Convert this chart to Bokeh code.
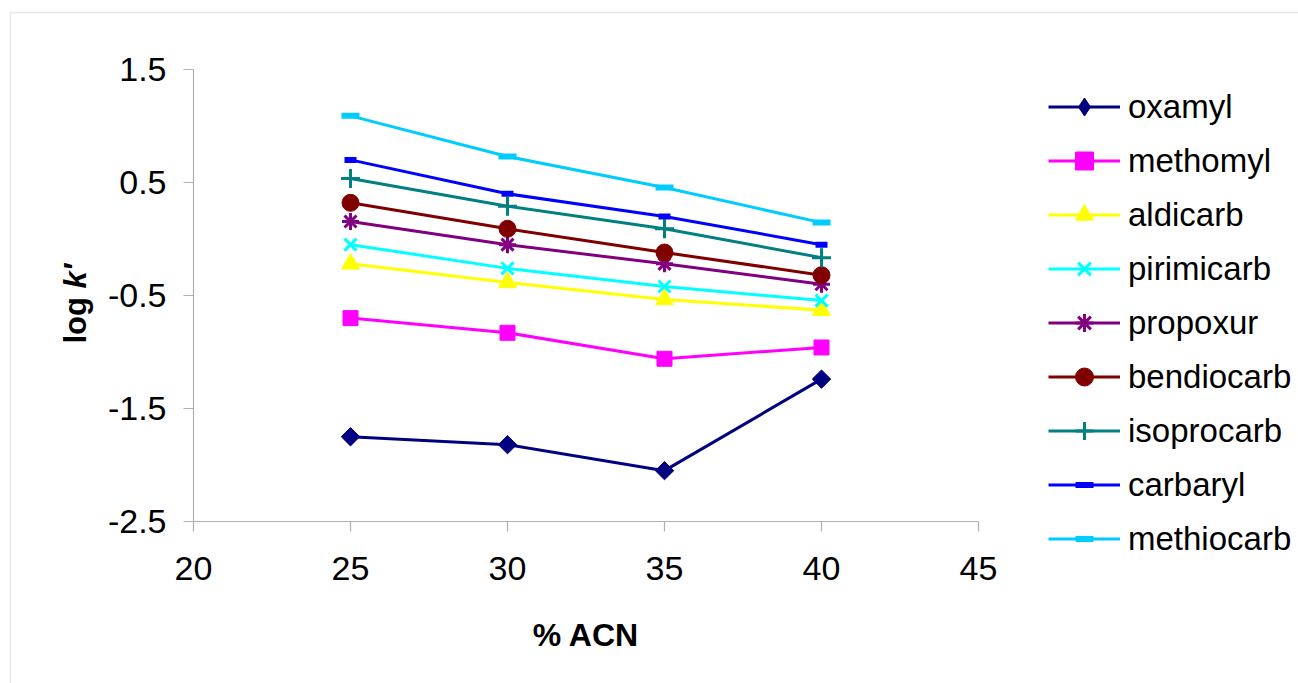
import math
from bokeh.plotting import figure
from bokeh.models import (Legend, LegendItem, Label, BoxAnnotation, FixedTicker, Range1d)
from bokeh.embed import file_html
from bokeh.resources import INLINE

# ---- data ----
acn = [25, 30, 35, 40]
oxamyl = [-1.75, -1.82, -2.05, -1.24]
methomyl = [-0.70, -0.83, -1.06, -0.96]
aldicarb = [-0.22, -0.385, -0.535, -0.63]
pirimicarb = [-0.05, -0.26, -0.42, -0.545]
propoxur = [0.155, -0.05, -0.22, -0.40]
bendiocarb = [0.32, 0.09, -0.12, -0.32]
isoprocarb = [0.535, 0.29, 0.09, -0.165]
carbaryl = [0.70, 0.40, 0.20, -0.05]
methiocarb = [1.09, 0.73, 0.455, 0.145]

names = ["oxamyl", "methomyl", "aldicarb", "pirimicarb", "propoxur",
         "bendiocarb", "isoprocarb", "carbaryl", "methiocarb"]
series = [oxamyl, methomyl, aldicarb, pirimicarb, propoxur,
          bendiocarb, isoprocarb, carbaryl, methiocarb]
colors = ["#000080", "#FF00FF", "#FFFF00", "#00FFFF", "#800080",
          "#800000", "#008080", "#0000FF", "#00CCFF"]
markers = ["square", "square", "triangle", "x", "asterisk",
           "circle", "cross", "dash", "dash"]
legend_markers = ["diamond", "square", "triangle", "x", "asterisk",
                  "circle", "cross", "dash", "dash"]
mangles = [math.pi / 4, 0, 0, 0, 0, 0, 0, 0, 0]
msizes = [13, 15, 18, 17, 17, 17, 19, 12, 18]
mlw = [1, 1, 1, 3, 3, 1, 3, 6, 6]

x_ticks = [20, 25, 30, 35, 40, 45]
y_ticks = [-2.5, -1.5, -0.5, 0.5, 1.5]
y_tick_labels = ["-2.5", "-1.5", "-0.5", "0.5", "1.5"]
x_axis_bounds = (20, 45)
y_axis_bounds = (-2.5, 1.5)

FONT = "Liberation Sans"
W, H = 1298, 683
# pixel geometry of the axis box inside the canvas
AX_L, AX_R, AX_T, AX_B = 193, 978, 69, 521
xs = (x_axis_bounds[1] - x_axis_bounds[0]) / (AX_R - AX_L)
ys = (y_axis_bounds[1] - y_axis_bounds[0]) / (AX_B - AX_T)
x_range = Range1d(x_axis_bounds[0] - AX_L * xs, x_axis_bounds[1] + (W - AX_R) * xs)
y_range = Range1d(y_axis_bounds[0] - (H - AX_B) * ys, y_axis_bounds[1] + AX_T * ys)

p = figure(width=W, height=H, x_range=x_range, y_range=y_range,
           output_backend="svg", toolbar_location=None, title_location=None,
           min_border=0, min_border_left=0, min_border_right=0,
           min_border_top=0, min_border_bottom=0)
p.outline_line_color = None
p.xgrid.visible = False
p.ygrid.visible = False
p.background_fill_color = "white"
p.border_fill_color = "white"

for ax in (p.xaxis[0], p.yaxis[0]):
    ax.axis_line_color = "#b0b0b0"
    ax.axis_line_width = 1.2
    ax.major_tick_line_color = "#b0b0b0"
    ax.major_tick_line_width = 1.2
    ax.major_tick_out = 10
    ax.major_tick_in = 0
    ax.minor_tick_line_color = None
    ax.major_label_text_font = FONT
    ax.major_label_text_font_size = "34px"
    ax.major_label_text_color = "black"

p.xaxis.fixed_location = y_axis_bounds[0]
p.yaxis.fixed_location = x_axis_bounds[0]
p.xaxis.bounds = x_axis_bounds
p.yaxis.bounds = y_axis_bounds
p.xaxis.ticker = FixedTicker(ticks=x_ticks)
p.yaxis.ticker = FixedTicker(ticks=y_ticks)
p.yaxis.major_label_overrides = {t: l for t, l in zip(y_ticks, y_tick_labels)}
p.yaxis.major_label_standoff = 17
p.xaxis.major_label_standoff = 25

p.xaxis.axis_label = "% ACN"
p.xaxis.axis_label_text_font = FONT
p.xaxis.axis_label_text_font_size = "32px"
p.xaxis.axis_label_text_font_style = "bold"
p.xaxis.axis_label_text_color = "black"
p.xaxis.axis_label_standoff = 34

items = []
for name, yv, c, m, lm, a, s, lw in zip(names, series, colors, markers, legend_markers,
                                         mangles, msizes, mlw):
    r1 = p.line(acn, yv, line_color=c, line_width=3)
    if m in ("x", "asterisk", "cross", "dash"):
        r2 = p.scatter(acn, yv, marker=m, size=s, line_color=c, line_width=lw)
    else:
        r2 = p.scatter(acn, yv, marker=m, size=s, angle=a, fill_color=c, line_color=c, line_width=lw)
    if lm != m:
        # legend-only swatch (the legend does not rotate markers); hidden in the plot
        r3 = p.scatter(acn, yv, marker=lm, size=s, fill_color=c, line_color=c,
                       line_width=lw, visible=False)
        items.append(LegendItem(label=name, renderers=[r1, r3]))
    else:
        items.append(LegendItem(label=name, renderers=[r1, r2]))

legend = Legend(items=items, location=(1048, 122), padding=0, margin=0, spacing=9,
                glyph_height=45, glyph_width=72, label_height=45, label_standoff=8,
                border_line_color=None, background_fill_alpha=0,
                inactive_fill_alpha=0,
                label_text_font=FONT, label_text_font_size="33px", label_text_color="black")
p.add_layout(legend)

# y-axis title: "log k′" with italic k
p.add_layout(Label(x=75, y=H - 343, x_units="screen", y_units="screen", text="log ",
                   angle=math.pi / 2, text_font=FONT, text_font_size="31px",
                   text_font_style="bold", text_baseline="alphabetic", text_align="left",
                   text_color="black"))
p.add_layout(Label(x=75, y=H - 343 + 55, x_units="screen", y_units="screen", text="k′",
                   angle=math.pi / 2, text_font=FONT, text_font_size="31px",
                   text_font_style="bold italic", text_baseline="alphabetic", text_align="left",
                   text_color="black"))

# outer chart-area frame (left and top edges visible)
p.add_layout(BoxAnnotation(left=10, right=W + 100, bottom=-100, top=H - 12,
                           left_units="screen", right_units="screen",
                           bottom_units="screen", top_units="screen",
                           fill_alpha=0, line_color="#b4b4b4", line_width=1.5))

open("out.html", "w").write(file_html(p, INLINE))
